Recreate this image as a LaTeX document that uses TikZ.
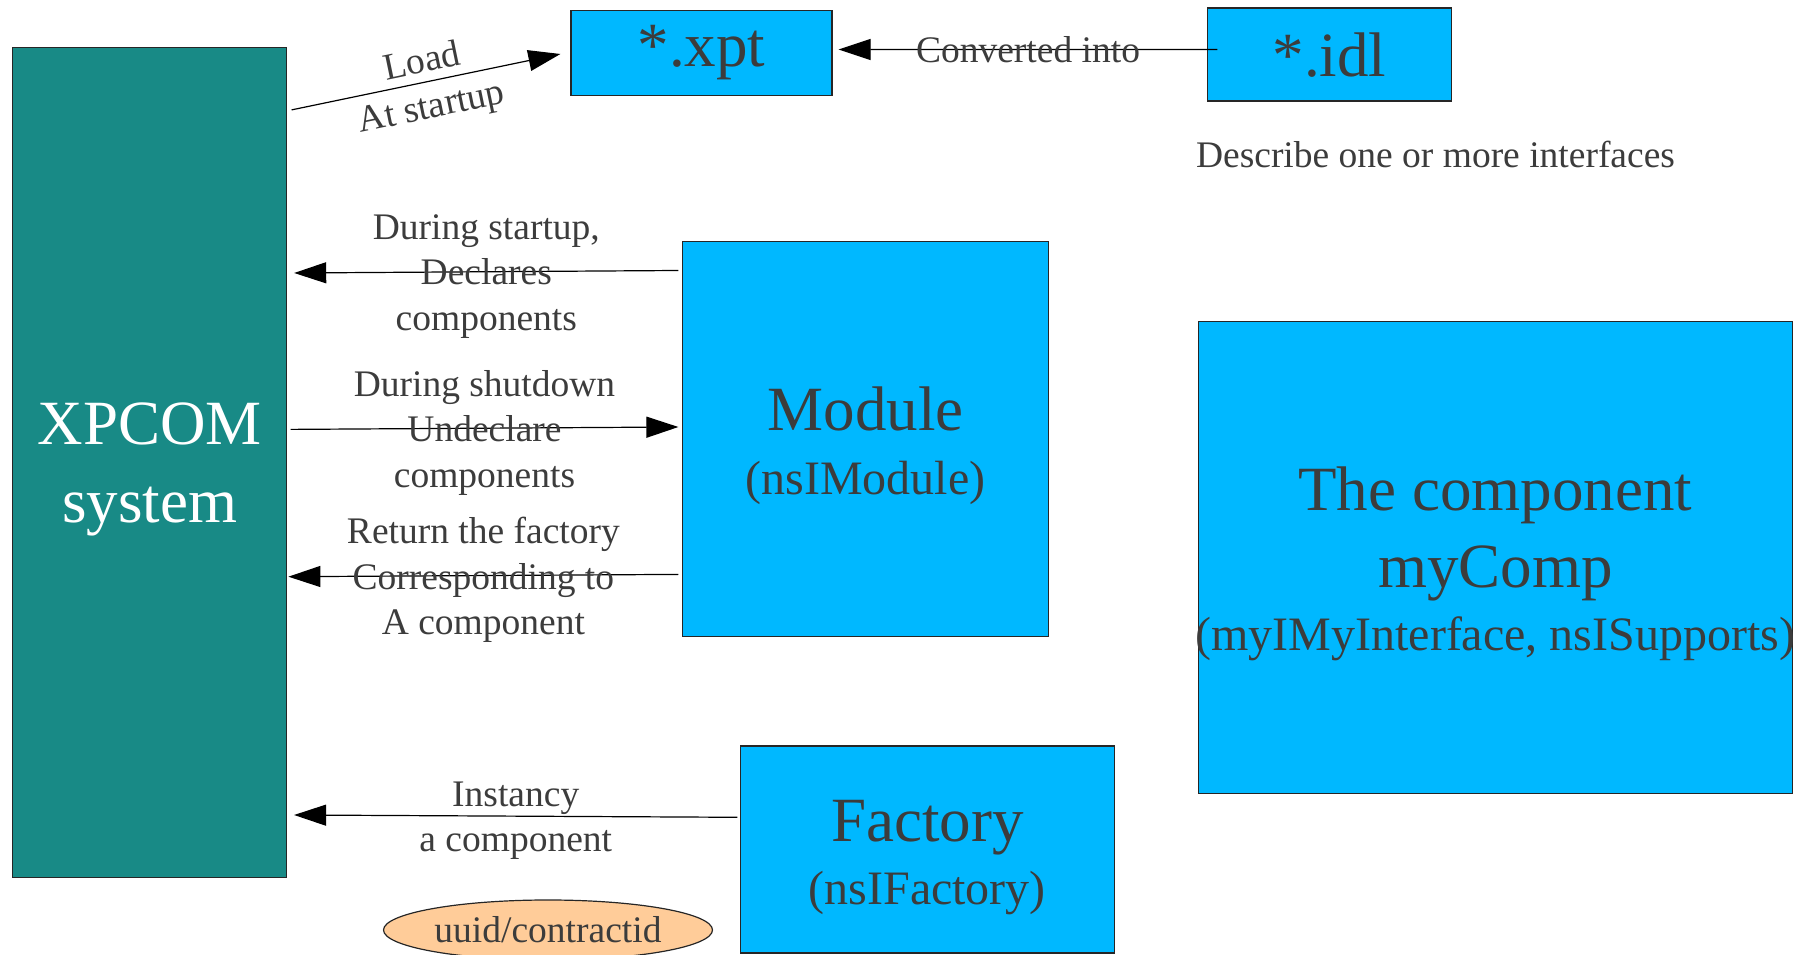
\documentclass[tikz,border=0pt]{standalone}
\usepackage{fontspec}
\setmainfont{Liberation Serif}
\usepackage{tikz}
\usepackage{xcolor}
\usetikzlibrary{arrows.meta,shapes.geometric}
\definecolor{boxblue}{HTML}{00B8FF}
\definecolor{boxteal}{HTML}{188A86}
\definecolor{ovalpeach}{HTML}{FFCC99}
\definecolor{textgray}{HTML}{3C3C3C}
\newcommand{\boxbigfont}{\fontsize{63}{63.5}\selectfont}
\newcommand{\boxsubfont}{\fontsize{48}{58}\selectfont}
\newcommand{\flowfont}{\fontsize{37.5}{45.5}\selectfont}
\newcommand{\boxstrut}{\rule{0pt}{57pt}}
\tikzset{
    blue-box/.style = {draw=black!85, fill=boxblue, line width=1.2pt, rectangle, inner sep=0pt, text=textgray, align=center, font=\boxbigfont},
    system-box/.style = {draw=black!85, fill=boxteal, line width=1.2pt, rectangle, inner sep=0pt, text=white, align=center, font=\fontsize{63}{78}\selectfont},
    flow-label/.style = {text=textgray, font=\flowfont, align=center, inner sep=0pt},
    stack-label/.style = {flow-label, yshift=-4.6pt},
    flow-arrow/.style = {draw=black, line width=1.2pt, -{Triangle[length=32pt,width=21pt]}},
    id-oval/.style = {ellipse, draw=black!85, fill=ovalpeach, line width=1.2pt, inner sep=0pt, text=textgray, font=\flowfont},
}

\begin{document}
\begin{tikzpicture}[x=1pt,y=1pt]
\useasboundingbox (0,0) rectangle (1805,954);
\node[system-box, minimum width=274pt, minimum height=830pt] (sys) at (149.6,491.8) {\boxstrut XPCOM\\system};
\node[blue-box, minimum width=261pt, minimum height=85pt] (xpt) at (701.5,901) {*.xpt};
\node[blue-box, minimum width=244pt, minimum height=93pt] (idl) at (1329.5,899.4) {*.idl};
\node[flow-label] (describe) at (1435.5,800) {Describe one or more interfaces};
\node[blue-box, minimum width=366pt, minimum height=395pt] (module) at (865.6,514.8) {\boxstrut Module\\{\boxsubfont (nsIModule)}};
\node[blue-box, minimum width=594pt, minimum height=472pt] (comp) at (1495.3,396.8) {\boxstrut The component\\[13.5pt]myComp\\\makebox[590pt]{\boxsubfont (myIMyInterface, nsISupports)}};
\node[blue-box, minimum width=374pt, minimum height=207pt] (factory) at (927.3,104.5) {\boxstrut Factory\\{\boxsubfont (nsIFactory)}};
\node[id-oval, minimum width=329pt, minimum height=60pt] (uuid) at (548,24) {uuid/contractid};

\draw[flow-arrow] ([shift={(4.4,-63.3)}]sys.north east) -- ([shift={(-10,-1)}]xpt.west)
    node[flow-label, midway, above=9pt, sloped] {Load}
    node[flow-label, midway, below=11pt, sloped] {At startup};
\draw[flow-arrow] ([shift={(10.5,5)}]idl.west) -- ([shift={(6,3.5)}]xpt.east)
    node[flow-label, midway] {Converted into};
\draw[flow-arrow] ([shift={(-3.6,168.7)}]module.west) -- ([shift={(7,189.2)}]sys.east)
    node[stack-label, midway] {During startup,\\Declares\\components};
\draw[flow-arrow] ([shift={(3.4,32.8)}]sys.east) -- ([shift={(-3.6,12.2)}]module.west)
    node[stack-label, midway] {During shutdown\\Undeclare\\components};
\draw[flow-arrow] ([shift={(-3.6,-135.2)}]module.west) -- ([shift={(1.2,-114.5)}]sys.east)
    node[stack-label, midway] {Return the factory\\Corresponding to\\A component};
\draw[flow-arrow] ([shift={(-2.3,32.2)}]factory.west) -- ([shift={(6.9,-352.8)}]sys.east)
    node[stack-label, midway] {Instancy\\a component};
\end{tikzpicture}
\end{document}
